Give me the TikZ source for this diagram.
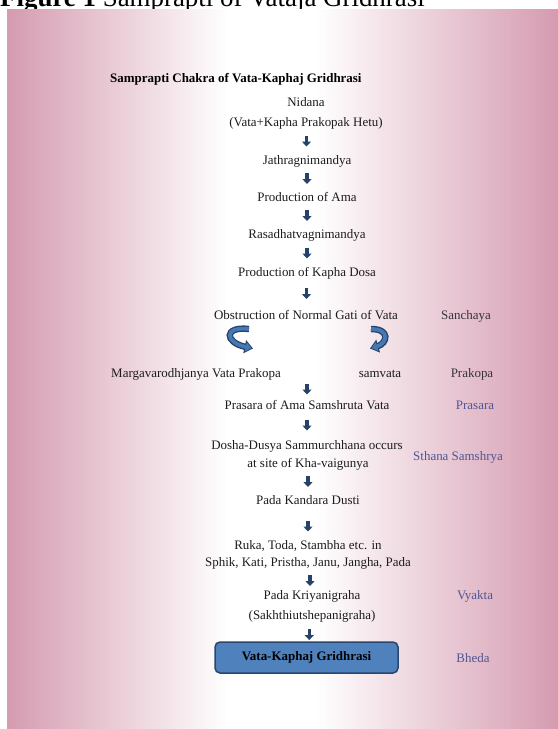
\documentclass[tikz,border=0pt]{standalone}
\usepackage{fontspec}
\setmainfont{Liberation Serif}
\usetikzlibrary{arrows.meta,calc}
\definecolor{pinkc}{RGB}{213,155,176}
\definecolor{arrowc}{RGB}{38,66,104}
\definecolor{curvec}{RGB}{70,120,180}
\definecolor{curveo}{RGB}{38,66,104}
\definecolor{boxfill}{RGB}{79,129,189}
\definecolor{boxline}{RGB}{42,70,108}
\definecolor{stagec}{RGB}{80,85,150}
\definecolor{stagek}{RGB}{55,50,60}
\definecolor{txt}{RGB}{28,28,28}
\pgfdeclarehorizontalshading{bgshade}{100bp}{color(0bp)=(pinkc); color(25bp)=(pinkc); color(45bp)=(white); color(53bp)=(white); color(75bp)=(pinkc); color(100bp)=(pinkc)}
\newcommand\flowarr[3][-4.5]{\draw[darr] ($($(#2)!0.5!(#3)$)+(0,#1-5.5)$) -- ++(0,11);}
\begin{document}
\begin{tikzpicture}[x=1bp,y=-1bp,
  lbl/.style={font=\fontsize{13}{15}\selectfont, text=txt, inner sep=0pt, anchor=base},
  hdr/.style={font=\bfseries\fontsize{13}{15}\selectfont, text=black, inner sep=0pt, anchor=base west},
  stagek/.style={font=\fontsize{13}{15}\selectfont, text=stagek, inner sep=0pt, anchor=base},
  stageb/.style={font=\fontsize{13}{15}\selectfont, text=stagec, inner sep=0pt, anchor=base},
  darr/.style={draw=arrowc, line width=3.4bp, -{Triangle[width=9bp,length=5bp]}},
  curveout/.style={draw=curveo, line width=6.4bp, -{Triangle[width=13bp,length=8.5bp]}},
  curvein/.style={draw=curvec, line width=3.8bp, shorten >=1.6bp, -{Triangle[width=9bp,length=5.8bp]}},
  finalbox/.style={draw=boxline, fill=boxfill, rounded corners=5bp, line width=1.5bp,
    minimum width=183bp, minimum height=31bp, inner sep=0pt,
    font=\bfseries\fontsize{13}{15}\selectfont, text=black}]
\useasboundingbox (0,0) rectangle (558,729);
\clip (0,0) rectangle (558,729);
% caption (cut at top)
\node[anchor=base west, inner sep=0pt, font=\fontsize{27}{30}\selectfont, text=black] (fig) at (0,6.5) {\textbf{Figure 1} Samprapti of Vataja Gridhrasi};
% background
\shade[shading=bgshade] (7,10) rectangle (558,729);
% header
\node[hdr] (hd) at (110,82.5) {Samprapti Chakra of Vata-Kaphaj Gridhrasi};
% main column
\node[lbl] (nid)  at (306,106.5) {Nidana};
\node[lbl] (nid2) at (306,126.5) {(Vata+Kapha Prakopak Hetu)};
\node[lbl] (jath) at (307,164.5) {Jathragnimandya};
\node[lbl] (pama) at (307,201.5) {Production of Ama};
\node[lbl] (rasa) at (307,238.5) {Rasadhatvagnimandya};
\node[lbl] (pkd)  at (307,276.5) {Production of Kapha Dosa};
\node[lbl] (obs)  at (306,319.5) {Obstruction of Normal Gati of Vata};
\node[lbl] (marg) at (196,377.5) {Margavarodhjanya Vata Prakopa};
\node[lbl] (samv) at (380,377.5) {samvata};
\node[lbl] (pras) at (307,409.5) {Prasara of Ama Samshruta Vata};
\node[lbl] (dos1) at (307,449.5) {Dosha-Dusya Sammurchhana occurs};
\node[lbl] (dos2) at (308,467.5) {at site of Kha-vaigunya};
\node[lbl] (pkdu) at (308,504.5) {Pada Kandara Dusti};
\node[lbl] (ruka) at (308,549.5) {Ruka, Toda, Stambha etc. in};
\node[lbl] (sphk) at (308,566.5) {Sphik, Kati, Pristha, Janu, Jangha, Pada};
\node[lbl] (kri1) at (312,599.5) {Pada Kriyanigraha};
\node[lbl] (kri2) at (312,619.5) {(Sakhthiutshepanigraha)};
\node[finalbox] (vk) at (306.5,657.5) {Vata-Kaphaj Gridhrasi};
% stage labels
\node[stagek] (sanc) at (466,319.5) {Sanchaya};
\node[stagek] (prak) at (472,377.5) {Prakopa};
\node[stageb] (prsr) at (475,409.5) {Prasara};
\node[stageb] (sthn) at (458,460.5) {Sthana Samshrya};
\node[stageb] (vyak) at (475,599.5) {Vyakta};
\node[stageb] (bhed) at (473,662.5) {Bheda};
% arrows
\flowarr{nid2.base}{jath.base}
\flowarr{jath.base}{pama.base}
\flowarr{pama.base}{rasa.base}
\flowarr{rasa.base}{pkd.base}
\flowarr{pkd.base}{obs.base}
\flowarr{pras.base |- marg.base}{pras.base}
\flowarr{pras.base}{dos1.base}
\flowarr{dos2.base}{pkdu.base}
\flowarr[-1]{pkdu.base}{ruka.base}
\flowarr[-2.5]{sphk.base}{kri1.base}
\flowarr[4.2]{kri2.base}{vk.north}
% curved arrows
\begin{scope}[shift={(obs.base)}]
  \draw[curveout] (-57,9.5) .. controls (-83,6.5) and (-81,23) .. (-53,29);
  \draw[curvein]  (-57,9.5) .. controls (-83,6.5) and (-81,23) .. (-53,29);
  \draw[curveout] (65,9.5) .. controls (85,9.5) and (81,24) .. (64,29);
  \draw[curvein]  (65,9.5) .. controls (85,9.5) and (81,24) .. (64,29);
\end{scope}
\end{tikzpicture}
\end{document}
